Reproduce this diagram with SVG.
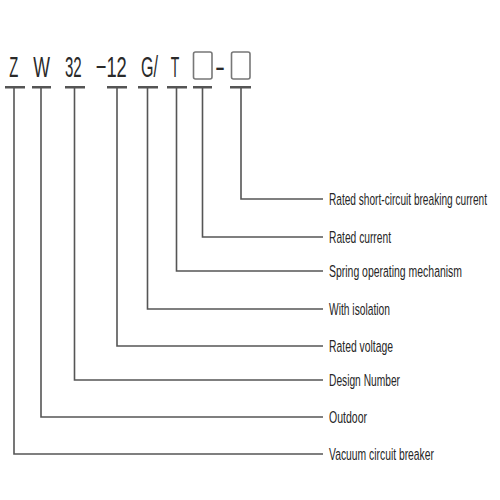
<svg xmlns="http://www.w3.org/2000/svg" width="500" height="500" viewBox="0 0 500 500">
<style>
.code{font-family:"Liberation Sans",Arial,sans-serif;font-size:30px;fill:#2a2a2a}
.lbl{font-family:"Liberation Sans",Arial,sans-serif;font-size:16.5px;fill:#262626}
.bar{stroke:#555;stroke-width:2.6;fill:none}
.ln{stroke:#555;stroke-width:1.6;fill:none}
.box{stroke:#777;stroke-width:1.6;fill:none}
</style>
<rect width="500" height="500" fill="#fff"/>
<g id="code">
<g transform="translate(9.3 76.5) scale(0.55 1)"><text class="code" textLength="16.4" lengthAdjust="spacingAndGlyphs">Z</text></g>
<g transform="translate(33.3 76.5) scale(0.55 1)"><text class="code" textLength="30.4" lengthAdjust="spacingAndGlyphs">W</text></g>
<g transform="translate(65 76.5) scale(0.55 1)"><text class="code" textLength="30.4" lengthAdjust="spacingAndGlyphs">32</text></g>
<g transform="translate(95.7 76.5) scale(0.55 1)"><text class="code" textLength="56.4" lengthAdjust="spacingAndGlyphs">−12</text></g>
<g transform="translate(141 76.5) scale(0.55 1)"><text class="code" textLength="30.9" lengthAdjust="spacingAndGlyphs">G/</text></g>
<g transform="translate(170.7 76.5) scale(0.55 1)"><text class="code" textLength="15.5" lengthAdjust="spacingAndGlyphs">T</text></g>
<rect class="box" x="193.5" y="52" width="18.5" height="27" rx="2"/>
<g transform="translate(215 76.5) scale(0.55 1)"><text class="code" textLength="18.2" lengthAdjust="spacingAndGlyphs">-</text></g>
<rect class="box" x="231.5" y="52" width="18.5" height="27" rx="2"/>
</g>
<g id="connectors">
<path class="bar" d="M5 87.3H25M32 87.3H51M65 87.3H85M107 87.3H127M138 87.3H158M167 87.3H187M193 87.3H212M230 87.3H251"/>
<path class="ln" d="M14 87.3V454H323"/>
<path class="ln" d="M41 87.3V417H323"/>
<path class="ln" d="M74.5 87.3V380H323"/>
<path class="ln" d="M117 87.3V346H323"/>
<path class="ln" d="M147.5 87.3V309H323"/>
<path class="ln" d="M176.5 87.3V271H323"/>
<path class="ln" d="M202.5 87.3V237H323"/>
<path class="ln" d="M241 87.3V199H323"/>
</g>
<g id="n-breaking" transform="translate(329 204.5) scale(0.6 1)"><text class="lbl" textLength="263.3" lengthAdjust="spacingAndGlyphs">Rated short-circuit breaking current</text></g>
<g id="n-current" transform="translate(329 242.5) scale(0.6 1)"><text class="lbl" textLength="103.3" lengthAdjust="spacingAndGlyphs">Rated current</text></g>
<g id="n-spring" transform="translate(329 276.5) scale(0.6 1)"><text class="lbl" textLength="221.7" lengthAdjust="spacingAndGlyphs">Spring operating mechanism</text></g>
<g id="n-isolation" transform="translate(329 314.5) scale(0.6 1)"><text class="lbl" textLength="101.7" lengthAdjust="spacingAndGlyphs">With isolation</text></g>
<g id="n-voltage" transform="translate(329 351.5) scale(0.6 1)"><text class="lbl" textLength="106.7" lengthAdjust="spacingAndGlyphs">Rated voltage</text></g>
<g id="n-design" transform="translate(329 385.5) scale(0.6 1)"><text class="lbl" textLength="118.3" lengthAdjust="spacingAndGlyphs">Design Number</text></g>
<g id="n-outdoor" transform="translate(329 422.5) scale(0.6 1)"><text class="lbl" textLength="63.3" lengthAdjust="spacingAndGlyphs">Outdoor</text></g>
<g id="n-vacuum" transform="translate(329 459.5) scale(0.6 1)"><text class="lbl" textLength="175" lengthAdjust="spacingAndGlyphs">Vacuum circuit breaker</text></g>
</svg>
